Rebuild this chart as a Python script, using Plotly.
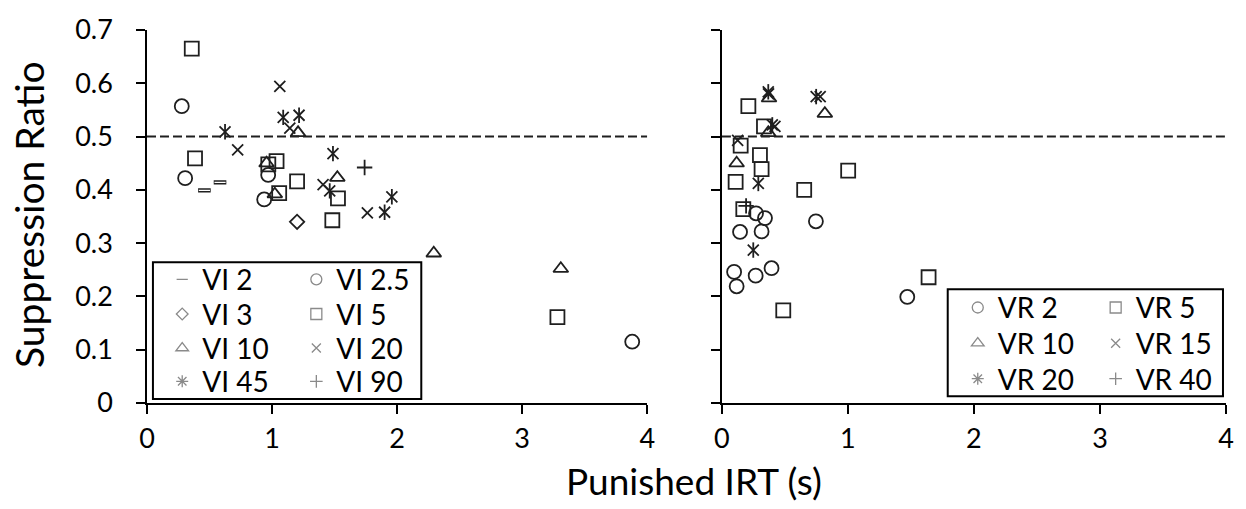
import plotly.graph_objects as go

# Punished IRT (s) and suppression ratio per schedule, VI panel
vi2_x = [0.459, 0.584]
vi2_y = [0.399, 0.414]
vi25_x = [0.278, 0.305, 0.969, 0.937, 3.88]
vi25_y = [0.557, 0.422, 0.428, 0.382, 0.115]
vi3_x = [1.20]
vi3_y = [0.340]
vi5_x = [0.358, 0.384, 0.97, 1.036, 1.20, 1.057, 1.527, 1.482, 3.282]
vi5_y = [0.665, 0.459, 0.448, 0.454, 0.416, 0.394, 0.384, 0.343, 0.161]
vi10_x = [0.956, 1.022, 1.208, 1.522, 2.293, 3.309]
vi10_y = [0.450, 0.392, 0.507, 0.423, 0.281, 0.252]
vi20_x = [1.062, 0.725, 1.142, 1.408, 1.762]
vi20_y = [0.594, 0.475, 0.516, 0.410, 0.357]
vi45_x = [0.624, 1.089, 1.216, 1.487, 1.461, 1.90, 1.958]
vi45_y = [0.509, 0.536, 0.540, 0.468, 0.398, 0.358, 0.387]
vi90_x = [1.74]
vi90_y = [0.442]

# VR panel
vr2_x = [0.271, 0.342, 0.746, 0.144, 0.315, 0.097, 0.117, 0.268, 0.394, 1.471]
vr2_y = [0.356, 0.347, 0.341, 0.321, 0.322, 0.246, 0.219, 0.239, 0.253, 0.199]
vr5_x = [0.21, 0.334, 0.149, 0.302, 0.315, 0.109, 0.653, 1.002, 0.17, 0.487, 1.64]
vr5_y = [0.557, 0.519, 0.483, 0.465, 0.439, 0.415, 0.400, 0.436, 0.364, 0.174, 0.236]
vr10_x = [0.374, 0.817, 0.368, 0.117]
vr10_y = [0.572, 0.543, 0.507, 0.450]
vr15_x = [0.37, 0.78, 0.421, 0.125]
vr15_y = [0.580, 0.575, 0.519, 0.493]
vr20_x = [0.368, 0.748, 0.40, 0.289, 0.249]
vr20_y = [0.584, 0.575, 0.522, 0.412, 0.287]
vr40_x = [0.192]
vr40_y = [0.370]

reference_ratio = 0.5
x_ticks = [0, 1, 2, 3, 4]
y_ticks = [0, 0.1, 0.2, 0.3, 0.4, 0.5, 0.6, 0.7]

FONT = "Lato, 'Open Sans', sans-serif"
INK = "#1f1f1f"
LEGEND_INK = "#8a8a8a"
LW = 1.8

# legend grid: column x and row centre y (paper units) for each panel
LEFT_COLS = [0.0141, 0.1384]
LEFT_ROWS = [0.3307, 0.2378, 0.1466, 0.0573]
RIGHT_COLS = [0.7514, 0.8792]
RIGHT_ROWS = [0.2552, 0.1596, 0.0643]

fig = go.Figure()
legend_layout = {}


def add_series(name, xs, ys, symbol, size, axes, slot, lw=LW,
               leg_symbol=None, leg_size=None, extra=None):
    xa, ya = axes
    key = "legend" if not legend_layout else "legend%d" % (len(legend_layout) + 1)
    legend_layout[key] = dict(
        x=slot[0], y=slot[1], xanchor="left", yanchor="middle",
        orientation="v", bgcolor="rgba(0,0,0,0)", borderwidth=0,
        font=dict(family=FONT, size=28, color="black"),
        itemwidth=30, itemclick=False, itemdoubleclick=False,
    )
    fig.add_trace(go.Scatter(
        x=xs, y=ys, mode="markers", xaxis=xa, yaxis=ya,
        marker=dict(symbol=symbol, size=size, color=INK,
                    line=dict(color=INK, width=lw)),
        showlegend=False, legendgroup=name, name=name))
    if extra:
        for sym, sz, col, w in extra:
            fig.add_trace(go.Scatter(
                x=xs, y=ys, mode="markers", xaxis=xa, yaxis=ya,
                marker=dict(symbol=sym, size=sz, color=col,
                            line=dict(color=col, width=w)),
                showlegend=False, legendgroup=name, hoverinfo="skip", name=name))
    fig.add_trace(go.Scatter(
        x=[None], y=[None], mode="markers", xaxis=xa, yaxis=ya,
        marker=dict(symbol=leg_symbol or symbol, size=leg_size or size - 2,
                    color=LEGEND_INK, line=dict(color=LEGEND_INK, width=1.3)),
        name=name, legend=key, legendgroup=name, showlegend=True))


L = ("x", "y")
R = ("x2", "y2")
star_arm = [("line-ns-open", 11, INK, LW)]

# VI panel
add_series("VI 2", vi2_x, vi2_y, "line-ew-open", 9, L, (LEFT_COLS[0], LEFT_ROWS[0]), lw=4.2,
           leg_size=8, extra=[("line-ew-open", 8, "white", 1.4)])
add_series("VI 2.5", vi25_x, vi25_y, "circle-open", 14, L, (LEFT_COLS[1], LEFT_ROWS[0]), leg_size=11)
add_series("VI 3", vi3_x, vi3_y, "diamond-open", 11, L, (LEFT_COLS[0], LEFT_ROWS[1]), leg_size=9)
add_series("VI 5", vi5_x, vi5_y, "square-open", 14, L, (LEFT_COLS[1], LEFT_ROWS[1]), leg_size=11)
add_series("VI 10", vi10_x, vi10_y, "triangle-up-open", 13, L, (LEFT_COLS[0], LEFT_ROWS[2]), leg_size=11)
add_series("VI 20", vi20_x, vi20_y, "x-thin-open", 11, L, (LEFT_COLS[1], LEFT_ROWS[2]), leg_size=9)
add_series("VI 45", vi45_x, vi45_y, "x-thin-open", 11, L, (LEFT_COLS[0], LEFT_ROWS[3]),
           leg_symbol="asterisk-open", leg_size=10, extra=star_arm)
add_series("VI 90", vi90_x, vi90_y, "cross-thin-open", 11, L, (LEFT_COLS[1], LEFT_ROWS[3]), leg_size=9)

# VR panel
add_series("VR 2", vr2_x, vr2_y, "circle-open", 14, R, (RIGHT_COLS[0], RIGHT_ROWS[0]), leg_size=11)
add_series("VR 5", vr5_x, vr5_y, "square-open", 14, R, (RIGHT_COLS[1], RIGHT_ROWS[0]), leg_size=11)
add_series("VR 10", vr10_x, vr10_y, "triangle-up-open", 13, R, (RIGHT_COLS[0], RIGHT_ROWS[1]), leg_size=11)
add_series("VR 15", vr15_x, vr15_y, "x-thin-open", 11, R, (RIGHT_COLS[1], RIGHT_ROWS[1]), leg_size=9)
add_series("VR 20", vr20_x, vr20_y, "x-thin-open", 11, R, (RIGHT_COLS[0], RIGHT_ROWS[2]),
           leg_symbol="asterisk-open", leg_size=10, extra=star_arm)
add_series("VR 40", vr40_x, vr40_y, "cross-thin-open", 11, R, (RIGHT_COLS[1], RIGHT_ROWS[2]), leg_size=9)

# dashed reference line at a suppression ratio of 0.5
for xr, yr in (("x", "y"), ("x2", "y2")):
    fig.add_shape(type="line", xref=xr, yref=yr, x0=x_ticks[0], x1=x_ticks[-1],
                  y0=reference_ratio, y1=reference_ratio,
                  line=dict(color=INK, width=2, dash="9px,4px"), layer="below")

# legend frames
for x0, x1, y0, y1 in ((0.0055, 0.2542, 0.0104, 0.3776),
                       (0.7421, 0.9972, 0.0182, 0.3047)):
    fig.add_shape(type="rect", xref="paper", yref="paper", x0=x0, x1=x1, y0=y0, y1=y1,
                  line=dict(color="black", width=2), fillcolor="white", layer="below")

axis_common = dict(
    showline=True, linecolor="black", linewidth=1.5, mirror=False,
    ticks="outside", ticklen=9, tickwidth=1.5, tickcolor="black",
    showgrid=False, zeroline=False,
    tickfont=dict(family=FONT, size=27, color="black"),
)

fig.update_layout(
    width=1246, height=509,
    margin=dict(l=147, r=17, t=19, b=106),
    paper_bgcolor="white", plot_bgcolor="white",
    font=dict(family=FONT, color="black"),
    xaxis=dict(domain=[0, 0.4636], range=[0, 4], tickvals=x_ticks,
               ticklabelstandoff=2, **axis_common),
    yaxis=dict(range=[0, 0.7], tickvals=y_ticks, ticklabelstandoff=18,
               anchor="x", **axis_common),
    xaxis2=dict(domain=[0.5328, 1], range=[0, 4], tickvals=x_ticks, anchor="y2",
                ticklabelstandoff=2, **axis_common),
    yaxis2=dict(range=[0, 0.7], tickvals=y_ticks, anchor="x2", showticklabels=False,
                **axis_common),
    annotations=[
        dict(text="Suppression Ratio", xref="paper", yref="paper", x=-0.11, y=0.505,
             textangle=-90, showarrow=False, xanchor="center", yanchor="middle",
             font=dict(family=FONT, size=39, color="black")),
        dict(text="Punished IRT (s)", xref="paper", yref="paper", x=0.5074, y=-0.208,
             showarrow=False, xanchor="center", yanchor="middle",
             font=dict(family=FONT, size=37, color="black")),
    ],
    **legend_layout,
)

fig.write_html("out.html")
